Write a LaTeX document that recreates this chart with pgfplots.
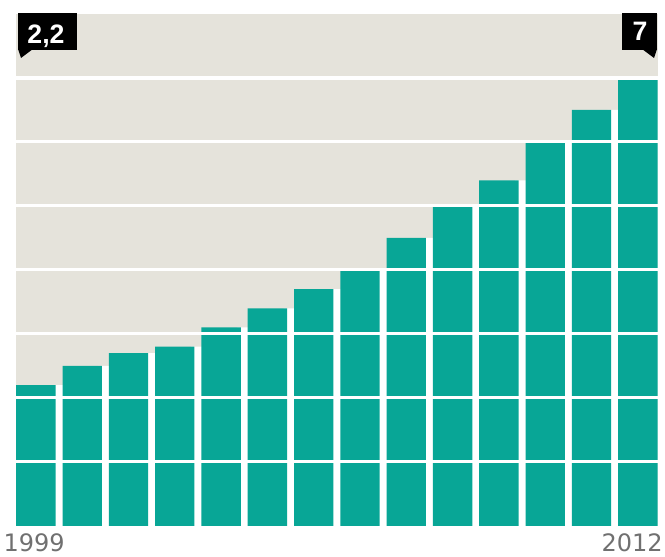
\documentclass[border=0pt]{standalone}
\usepackage{pgfplots}
\pgfplotsset{compat=1.18}
\usepackage{fontspec}
\setmainfont{DejaVu Sans}
\newfontfamily\boxfont{Liberation Sans}
\definecolor{tealbar}{RGB}{8,166,150}
\definecolor{bg}{RGB}{229,227,219}
\definecolor{yeargray}{RGB}{112,112,112}
\pgfplotstableread{
x y
0 2.2
1 2.5
2 2.7
3 2.8
4 3.1
5 3.4
6 3.7
7 4.0
8 4.5
9 5.0
10 5.4
11 6.0
12 6.5
13 7.0
}\datatable
\begin{document}
\begin{tikzpicture}[x=0.75pt,y=0.75pt]
\useasboundingbox (0,0) rectangle (665,557);
\begin{axis}[
  at={(12pt,23.4pt)}, anchor=south west,
  scale only axis, width=481.3pt, height=383.9pt,
  xmin=-0.43, xmax=13.43, ymin=0, ymax=8,
  axis background/.style={fill=bg},
  axis line style={draw=none},
  xtick=\empty, ytick={1,2,3,4,5,6,7}, yticklabels={},
  major tick length=0pt,
  ymajorgrids, grid style={white, line width=2.4pt},
  axis on top,
]
\addplot[ybar, bar shift=0.5, bar width=0.3, fill=white, draw=none] table[x=x,y=y] {\datatable};
\addplot[ybar, bar shift=0pt, bar width=0.85, fill=tealbar, draw=none] table[x=x,y=y] {\datatable};
\end{axis}
% callouts
\fill[black] (18,507) rectangle (77,544);
\fill[black] (18,508) -- (33,508) -- (21,499) -- cycle;
\node[anchor=base, inner sep=0pt, text=white, font=\boxfont\bfseries\fontsize{20}{22}\selectfont] at (46,513.5) {2,2};
\fill[black] (622,507) rectangle (657,544);
\fill[black] (642,508) -- (657,508) -- (654,499) -- cycle;
\node[anchor=base, inner sep=0pt, text=white, font=\boxfont\bfseries\fontsize{20}{22}\selectfont] at (640,516.5) {7};
% years
\node[anchor=base east, inner sep=0pt, text=yeargray, font=\fontsize{18}{20}\selectfont] at (65,5) {1999};
\node[anchor=base east, inner sep=0pt, text=yeargray, font=\fontsize{18}{20}\selectfont] at (663,5) {2012};
\end{tikzpicture}
\end{document}
